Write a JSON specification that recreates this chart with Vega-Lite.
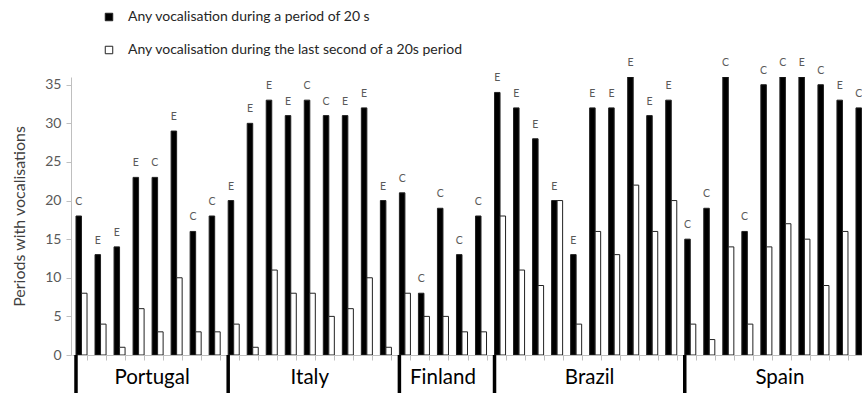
{
  "$schema": "https://vega.github.io/schema/vega-lite/v6.json",
  "autosize": "none",
  "padding": {"left": 71, "top": 77, "right": 0, "bottom": 38},
  "width": 791,
  "height": 278,
  "config": {
    "view": {"stroke": null},
    "font": "Lato",
    "axisY": {
      "tickCount": 8, "grid": false, "labelOverlap": false,
      "domainColor": "#bfbfbf", "tickColor": "#bfbfbf", "tickSize": 5,
      "labelFontSize": 14, "labelColor": "#595959", "labelPadding": 5,
      "titleFontSize": 16, "titleFontWeight": "normal", "titleColor": "#404040", "titlePadding": 17
    }
  },
  "datasets": {
    "pairs": [
      {"pair": 1, "country": "Portugal", "code": "C", "total": 18, "last": 8},
      {"pair": 2, "country": "Portugal", "code": "E", "total": 13, "last": 4},
      {"pair": 3, "country": "Portugal", "code": "E", "total": 14, "last": 1},
      {"pair": 4, "country": "Portugal", "code": "E", "total": 23, "last": 6},
      {"pair": 5, "country": "Portugal", "code": "C", "total": 23, "last": 3},
      {"pair": 6, "country": "Portugal", "code": "E", "total": 29, "last": 10},
      {"pair": 7, "country": "Portugal", "code": "C", "total": 16, "last": 3},
      {"pair": 8, "country": "Portugal", "code": "C", "total": 18, "last": 3},
      {"pair": 9, "country": "Italy", "code": "E", "total": 20, "last": 4},
      {"pair": 10, "country": "Italy", "code": "E", "total": 30, "last": 1},
      {"pair": 11, "country": "Italy", "code": "E", "total": 33, "last": 11},
      {"pair": 12, "country": "Italy", "code": "E", "total": 31, "last": 8},
      {"pair": 13, "country": "Italy", "code": "C", "total": 33, "last": 8},
      {"pair": 14, "country": "Italy", "code": "C", "total": 31, "last": 5},
      {"pair": 15, "country": "Italy", "code": "E", "total": 31, "last": 6},
      {"pair": 16, "country": "Italy", "code": "E", "total": 32, "last": 10},
      {"pair": 17, "country": "Italy", "code": "E", "total": 20, "last": 1},
      {"pair": 18, "country": "Finland", "code": "C", "total": 21, "last": 8},
      {"pair": 19, "country": "Finland", "code": "C", "total": 8, "last": 5},
      {"pair": 20, "country": "Finland", "code": "C", "total": 19, "last": 5},
      {"pair": 21, "country": "Finland", "code": "C", "total": 13, "last": 3},
      {"pair": 22, "country": "Finland", "code": "C", "total": 18, "last": 3},
      {"pair": 23, "country": "Brazil", "code": "E", "total": 34, "last": 18},
      {"pair": 24, "country": "Brazil", "code": "E", "total": 32, "last": 11},
      {"pair": 25, "country": "Brazil", "code": "E", "total": 28, "last": 9},
      {"pair": 26, "country": "Brazil", "code": "E", "total": 20, "last": 20},
      {"pair": 27, "country": "Brazil", "code": "E", "total": 13, "last": 4},
      {"pair": 28, "country": "Brazil", "code": "E", "total": 32, "last": 16},
      {"pair": 29, "country": "Brazil", "code": "E", "total": 32, "last": 13},
      {"pair": 30, "country": "Brazil", "code": "E", "total": 36, "last": 22},
      {"pair": 31, "country": "Brazil", "code": "E", "total": 31, "last": 16},
      {"pair": 32, "country": "Brazil", "code": "E", "total": 33, "last": 20},
      {"pair": 33, "country": "Spain", "code": "C", "total": 15, "last": 4},
      {"pair": 34, "country": "Spain", "code": "C", "total": 19, "last": 2},
      {"pair": 35, "country": "Spain", "code": "C", "total": 36, "last": 14},
      {"pair": 36, "country": "Spain", "code": "C", "total": 16, "last": 4},
      {"pair": 37, "country": "Spain", "code": "C", "total": 35, "last": 14},
      {"pair": 38, "country": "Spain", "code": "C", "total": 36, "last": 17},
      {"pair": 39, "country": "Spain", "code": "E", "total": 36, "last": 15},
      {"pair": 40, "country": "Spain", "code": "C", "total": 35, "last": 9},
      {"pair": 41, "country": "Spain", "code": "E", "total": 33, "last": 16},
      {"pair": 42, "country": "Spain", "code": "C", "total": 32, "last": null}
    ],
    "separators": [{"pair": 1}, {"pair": 9}, {"pair": 18}, {"pair": 23}, {"pair": 33}],
    "countries": [
      {"country": "Portugal", "pair": 5},
      {"country": "Italy", "pair": 13},
      {"country": "Finland", "pair": 20},
      {"country": "Brazil", "pair": 28},
      {"country": "Spain", "pair": 38}
    ]
  },
  "layer": [
    {
      "data": {"name": "pairs"},
      "transform": [{"fold": ["total", "last"], "as": ["series", "value"]}],
      "mark": {"type": "bar", "clip": true, "stroke": "#222", "strokeWidth": 1},
      "encoding": {
        "x": {
          "field": "pair", "type": "ordinal", "sort": "ascending",
          "scale": {"type": "band", "range": [1, 800], "paddingInner": 0.42, "paddingOuter": 0.21},
          "axis": {"labels": false, "title": null, "tickBand": "extent", "domainColor": "#bfbfbf", "tickColor": "#bfbfbf", "tickSize": 5}
        },
        "xOffset": {"field": "series", "scale": {"domain": ["total", "last"]}},
        "y": {
          "field": "value", "type": "quantitative",
          "scale": {"domain": [0, 36], "nice": false},
          "axis": {"values": [0, 5, 10, 15, 20, 25, 30, 35], "title": "Periods with vocalisations"}
        },
        "fill": {
          "field": "series", "type": "nominal",
          "scale": {"domain": ["total", "last"], "range": ["black", "white"]},
          "legend": {
            "title": null, "orient": "none", "legendX": 31, "legendY": -67, "direction": "vertical",
            "symbolType": "square", "symbolSize": 56, "symbolStrokeColor": "#222", "symbolStrokeWidth": 1,
            "labelFontSize": 14, "labelColor": "#262626", "labelLimit": 600, "rowPadding": 19, "labelOffset": 12,
            "labelExpr": "datum.label == 'total' ? 'Any vocalisation during a period of 20 s' : 'Any vocalisation during the last second of a 20s period'"
          }
        }
      }
    },
    {
      "data": {"name": "pairs"},
      "mark": {"type": "text", "dy": -14, "fontSize": 10.5, "color": "#595959", "baseline": "middle"},
      "encoding": {
        "x": {"field": "pair", "type": "ordinal"},
        "xOffset": {"datum": "total"},
        "y": {"field": "total", "type": "quantitative", "axis": {"values": [0, 5, 10, 15, 20, 25, 30, 35], "title": "Periods with vocalisations"}},
        "text": {"field": "code"}
      }
    },
    {
      "data": {"name": "separators"},
      "mark": {"type": "rule", "color": "black", "strokeWidth": 3.5},
      "encoding": {
        "x": {"field": "pair", "type": "ordinal", "bandPosition": 0},
        "y": {"datum": 0},
        "y2": {"datum": -5}
      }
    },
    {
      "data": {"name": "countries"},
      "transform": [{"filter": "datum.country == 'Portugal' || datum.country == 'Brazil' || datum.country == 'Spain'"}],
      "mark": {"type": "text", "fontSize": 20.5, "color": "black", "baseline": "middle"},
      "encoding": {
        "x": {"field": "pair", "type": "ordinal", "bandPosition": 0},
        "y": {"datum": -3},
        "text": {"field": "country"}
      }
    },
    {
      "data": {"name": "countries"},
      "transform": [{"filter": "datum.country == 'Italy' || datum.country == 'Finland'"}],
      "mark": {"type": "text", "fontSize": 20.5, "color": "black", "baseline": "middle"},
      "encoding": {
        "x": {"field": "pair", "type": "ordinal", "bandPosition": 0.5},
        "y": {"datum": -3},
        "text": {"field": "country"}
      }
    }
  ]
}
